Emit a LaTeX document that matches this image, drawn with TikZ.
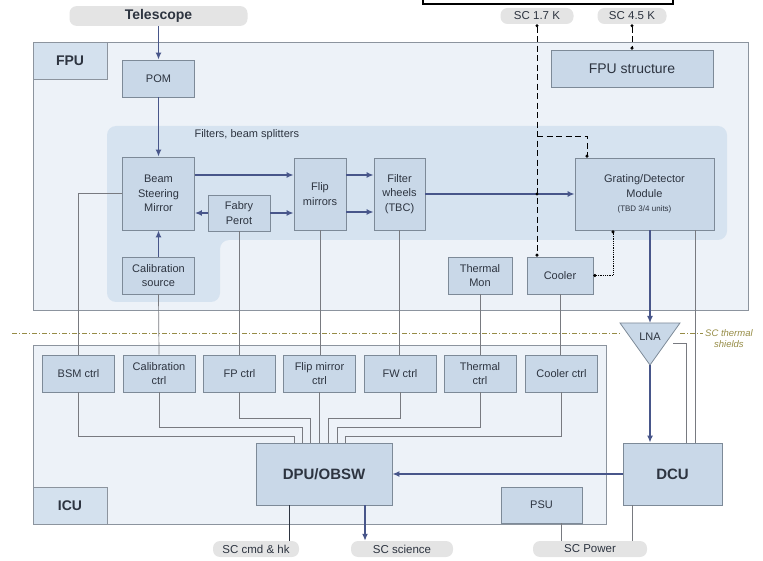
\documentclass[tikz,border=0pt]{standalone}
\usepackage{fontspec}
\setmainfont{Liberation Sans}
\usetikzlibrary{arrows.meta,calc}

\definecolor{boxfill}{RGB}{201,216,232}
\definecolor{boxline}{RGB}{125,138,152}
\definecolor{unitfill}{RGB}{237,242,248}
\definecolor{unitline}{RGB}{140,148,158}
\definecolor{zonefill}{RGB}{214,227,240}
\definecolor{tabfill}{RGB}{212,225,238}
\definecolor{flowc}{RGB}{72,86,138}
\definecolor{sigc}{RGB}{120,122,128}
\definecolor{txt}{RGB}{45,52,64}
\definecolor{portfill}{RGB}{228,228,228}
\definecolor{shieldc}{RGB}{150,140,70}

\begin{document}
\begin{tikzpicture}[x=1pt,y=-1pt,
  blk/.style={draw=boxline, fill=boxfill, line width=0.8pt, text=txt, align=center,
    inner sep=1pt, font=\fontsize{11}{14.5}\selectfont},
  ctrlbox/.style={blk, minimum width=72pt, minimum height=37pt},
  port/.style={fill=portfill, rounded corners=7pt, minimum height=16pt, text=txt,
    font=\fontsize{11.5}{13}\selectfont},
  flow/.style={draw=flowc, line width=1.8pt, -{Latex[length=7pt,width=6pt]}},
  sig/.style={draw=sigc, line width=0.7pt},
  cold/.style={draw=black, line width=0.9pt, dash pattern=on 6pt off 3.5pt},
  dot/.style={{Circle[length=3pt]}-{Circle[length=3pt]}},
  tabbox/.style={draw=unitline, fill=tabfill, line width=0.8pt, text=txt,
    font=\fontsize{14}{16}\selectfont\bfseries}
]
\useasboundingbox (0,0) rectangle (763,561);

% units and zones
\draw[line width=1.2pt] (423,-10) rectangle (673,4);
\filldraw[draw=unitline, fill=unitfill, line width=0.8pt] (33,42) rectangle (748,310);
\filldraw[draw=unitline, fill=unitfill, line width=0.8pt] (33,345) rectangle (606,524);
\fill[zonefill, rounded corners=9pt] (107,126) -- (727,126) -- (727,240) -- (220,240)
  -- (220,302) -- (107,302) -- cycle;
\node[tabbox, minimum width=74pt, minimum height=37pt] (fputab) at (70,60.5) {FPU};
\node[tabbox, minimum width=74pt, minimum height=37pt] (icutab) at (70,505.5) {ICU};
\node[anchor=west, text=txt, font=\fontsize{11}{12}\selectfont] (zone) at (191,135)
  {Filters, beam splitters};

% thermal shields
\draw[shieldc, line width=0.9pt, dash pattern=on 5pt off 2pt on 1pt off 2pt] (12,333) -- (620,333);
\draw[shieldc, line width=0.9pt, dash pattern=on 5pt off 2pt on 1pt off 2pt] (680,333) -- (703,333);
\node[anchor=west, align=center, text=shieldc, inner sep=0pt,
  font=\fontsize{9.5}{11}\selectfont\itshape] (shield) at (705,339) {SC thermal\\shields};

% ports
\node[port, minimum width=178pt, font=\fontsize{14}{15}\selectfont\bfseries] (tel) at (158.5,16) {Telescope};
\node[port, minimum width=73pt] (sc17) at (537,16) {SC 1.7 K};
\node[port, minimum width=69pt] (sc45) at (632,16) {SC 4.5 K};
\node[port, minimum width=86pt] (cmd) at (256,549) {SC cmd \& hk};
\node[port, minimum width=102pt] (sci) at (402,549) {SC science};
\node[port, minimum width=114pt] (pwr) at (590,549) {SC Power};

% FPU blocks
\node[blk, minimum width=72pt, minimum height=37pt] (pom) at (158.5,78.5) {POM};
\node[blk, minimum width=72pt, minimum height=73pt] (bsm) at (158.5,193.5) {Beam\\Steering\\Mirror};
\node[blk, minimum width=72pt, minimum height=37pt] (cals) at (158.5,275.5) {Calibration\\source};
\node[blk, minimum width=62pt, minimum height=36pt] (fp) at (239,213) {Fabry\\Perot};
\node[blk, minimum width=52pt, minimum height=72pt] (flip) at (320,194) {Flip\\mirrors};
\node[blk, minimum width=51pt, minimum height=72pt] (fw) at (399.5,194) {Filter\\wheels\\(TBC)};
\node[blk, minimum width=139pt, minimum height=72pt] (gdm) at (644.5,194)
  {Grating/Detector\\Module\\{\fontsize{8}{10}\selectfont(TBD 3/4 units)}};
\node[blk, minimum width=162pt, minimum height=37pt, font=\fontsize{14}{15}\selectfont] (fpus) at (632,68.5) {FPU structure};
\node[blk, minimum width=64pt, minimum height=37pt] (tmon) at (480,275.5) {Thermal\\Mon};
\node[blk, minimum width=66pt, minimum height=37pt] (cool) at (560,275.5) {Cooler};

% LNA
\coordinate (lnatop) at (650,323);
\coordinate (lnatip) at (650,365);
\coordinate (lnar) at (673,343);
\filldraw[draw=boxline, fill=boxfill, line width=0.8pt] (620,323) -- (680,323) -- (lnatip) -- cycle;
\node[text=txt, font=\fontsize{11}{12}\selectfont] (lna) at (650,337) {LNA};

% ICU blocks
\node[ctrlbox] (bsmc) at (78.5,373.5) {BSM ctrl};
\node[ctrlbox] (calc) at (159,373.5) {Calibration\\ctrl};
\node[ctrlbox] (fpc) at (239.5,373.5) {FP ctrl};
\node[ctrlbox] (flipc) at (319.5,373.5) {Flip mirror\\ctrl};
\node[ctrlbox] (fwc) at (400,373.5) {FW ctrl};
\node[ctrlbox] (tctl) at (480,373.5) {Thermal\\ctrl};
\node[ctrlbox] (coolc) at (561.5,373.5) {Cooler ctrl};
\node[blk, minimum width=136pt, minimum height=62pt, font=\fontsize{15}{16}\selectfont\bfseries] (dpu) at (324,474) {DPU/OBSW};
\node[blk, minimum width=99pt, minimum height=62pt, font=\fontsize{15}{16}\selectfont\bfseries] (dcu) at (672.5,474) {DCU};
\node[blk, minimum width=81pt, minimum height=36pt] (psu) at (541.5,505) {PSU};

% optical path
\draw[flow] (tel.south) -- (pom.north);
\draw[flow] (pom.south) -- (bsm.north);
\draw[flow] (cals.north) -- (bsm.south);
\draw[flow] ([yshift=18.5pt]bsm.east) -- ([yshift=18.5pt]bsm.east -| flip.west);
\draw[flow] (fp.west) -- (fp.west -| bsm.east);
\draw[flow] (fp.east) -- (fp.east -| flip.west);
\draw[flow] ([yshift=19pt]flip.east) -- ([yshift=19pt]flip.east -| fw.west);
\draw[flow] ([yshift=-18pt]flip.east) -- ([yshift=-18pt]flip.east -| fw.west);
\draw[flow] (fw.east) -- (gdm.west);
\draw[flow] ([xshift=5.5pt]gdm.south) -- (lnatop);
\draw[flow] (lnatip) -- (lnatip |- dcu.north);
\draw[flow] (dcu.west) -- (dpu.east);
\draw[flow] ([xshift=41pt]dpu.south) -- ([xshift=41pt]dpu.south |- sci.north);

% cold links
\draw[cold, dot] (sc17.south) -- (sc17.south |- cool.north);
\draw[cold, -{Circle[length=3pt]}] (sc17.south |- 0,136) -| ([xshift=-57.5pt]gdm.north);
\fill (fw.east -| sc17.south) circle (1.6pt);
\draw[cold, dot] (sc45.south) -- (fpus.north);
\draw[black, line width=0.8pt, densely dotted, dot] (cool.east) -| ([xshift=-31.5pt]gdm.south);

% control lines
\draw[sig] (bsm.west) -| (bsmc.north);
\draw[sig] (cals.south) -- (calc.north);
\draw[sig] (fp.south) -- (fp.south |- fpc.north);
\draw[sig] (flip.south) -- (flip.south |- flipc.north);
\draw[sig] (fw.south) -- (fw.south |- fwc.north);
\draw[sig] (tmon.south) -- (tctl.north);
\draw[sig] (cool.south) -- (cool.south |- coolc.north);
\draw[sig] (bsmc.south) -- ++(0,44) -| ($(dpu.north)+(-30,0)$);
\draw[sig] (calc.south) -- ++(0,35) -| ($(dpu.north)+(-22,0)$);
\draw[sig] (fpc.south) -- ++(0,26) -| ($(dpu.north)+(-14,0)$);
\draw[sig] (flipc.south) -- (flipc.south |- dpu.north);
\draw[sig] (fwc.south) -- ++(0,26) -| ($(dpu.north)+(4,0)$);
\draw[sig] (tctl.south) -- ++(0,35) -| ($(dpu.north)+(13,0)$);
\draw[sig] (coolc.south) -- ++(0,44) -| ($(dpu.north)+(21,0)$);
\draw[sig] (lnar) -| ([xshift=13.5pt]dcu.north);
\draw[sig] ([xshift=50.5pt]gdm.south) -- ([xshift=50.5pt]gdm.south |- dcu.north);
\draw[sig, draw=txt] ([xshift=-35pt]dpu.south) -- ([xshift=-35pt]dpu.south |- cmd.north);
\draw[sig] ([xshift=19.5pt]psu.south) -- ([xshift=19.5pt]psu.south |- pwr.north);
\draw[sig] ([xshift=-40.5pt]dcu.south) -- ([xshift=-40.5pt]dcu.south |- pwr.north);
\end{tikzpicture}
\end{document}
